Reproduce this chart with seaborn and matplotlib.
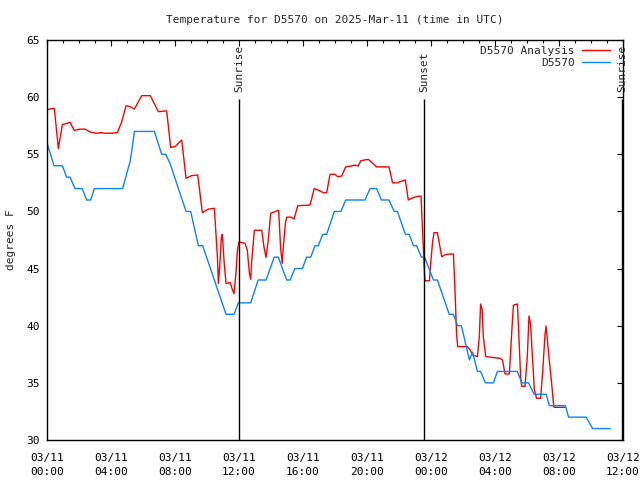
import numpy as np
import pandas as pd
import matplotlib
matplotlib.use("Agg")
import matplotlib.pyplot as plt
import matplotlib.dates as mdates
import matplotlib.transforms as mtransforms
from matplotlib.lines import Line2D
import seaborn as sns

# ---- data (hours after 2025-03-11 00:00 UTC, degrees F) ----
analysis_hours = [0.0, 0.3, 0.46, 0.71, 0.96, 1.23, 1.44, 1.7, 2.06, 2.4, 2.69, 3.1, 3.4, 3.6,
                  4.04, 4.4, 4.67, 4.94, 5.19, 5.46, 5.92, 6.46, 6.96, 7.48, 7.73, 8.0, 8.42,
                  8.69, 9.04, 9.42, 9.71, 10.08, 10.46, 10.65, 10.71, 10.8, 10.9, 10.96, 11.06,
                  11.19, 11.27, 11.44, 11.6, 11.69, 11.81, 11.9, 12.0, 12.375, 12.52, 12.65,
                  12.73, 12.8, 12.96, 13.42, 13.56, 13.69, 13.83, 13.98, 14.35, 14.48, 14.6,
                  14.7, 14.77, 14.9, 14.98, 15.25, 15.44, 15.67, 16.44, 16.7, 17.06, 17.27,
                  17.48, 17.69, 18.0, 18.17, 18.42, 18.67, 19.0, 19.25, 19.44, 19.62, 20.08,
                  20.6, 21.375, 21.6, 21.9, 22.06, 22.4, 22.58, 22.79, 23.1, 23.375, 23.46,
                  23.52, 23.58, 23.625, 23.9, 23.98, 24.1, 24.19, 24.4, 24.52, 24.67, 24.875,
                  25.08, 25.4, 25.5, 25.6, 25.67, 26.27, 26.44, 26.6, 26.9, 27.02, 27.1, 27.2,
                  27.27, 27.42, 28.0, 28.3, 28.47, 28.625, 28.9, 29.04, 29.15, 29.4, 29.46,
                  29.6, 29.67, 29.875, 30.02, 30.125, 30.23, 30.35, 30.46, 30.6, 30.85, 30.98,
                  31.125, 31.19, 31.27, 31.4, 31.54, 31.65, 31.69, 32.375]
analysis_temps = [58.9, 59.0, 59.0, 55.5, 57.6, 57.7, 57.8, 57.1, 57.2, 57.2, 56.95, 56.84, 56.9,
                  56.84, 56.84, 56.9, 57.85, 59.25, 59.17, 58.96, 60.13, 60.13, 58.73, 58.8,
                  55.6, 55.67, 56.25, 52.9, 53.13, 53.19, 49.9, 50.2, 50.27, 46.04, 43.7, 45.3,
                  47.8, 48.0, 45.75, 43.7, 43.7, 43.8, 43.1, 42.8, 44.6, 46.6, 47.35, 47.2,
                  46.6, 44.6, 44.06, 45.75, 48.35, 48.35, 46.9, 45.98, 47.5, 49.83, 50.04,
                  50.1, 46.8, 45.46, 46.9, 48.96, 49.5, 49.5, 49.34, 50.5, 50.56, 52.0, 51.8,
                  51.64, 51.64, 53.25, 53.25, 53.04, 53.1, 53.9, 53.97, 54.06, 53.97, 54.44,
                  54.56, 53.9, 53.9, 52.5, 52.5, 52.6, 52.75, 51.0, 51.15, 51.3, 51.35, 48.67,
                  46.6, 44.9, 43.94, 43.94, 45.46, 47.35, 48.14, 48.14, 47.2, 46.04, 46.2,
                  46.27, 46.27, 43.1, 39.2, 38.17, 38.17, 37.9, 37.44, 37.3, 39.04, 41.9, 41.4,
                  39.04, 37.3, 37.2, 37.15, 37.0, 35.78, 35.78, 39.3, 41.8, 41.9, 40.2, 35.54,
                  34.7, 34.7, 37.3, 40.85, 40.06, 37.0, 34.4, 33.65, 33.65, 35.98, 39.2, 39.98,
                  38.75, 36.85, 34.96, 33.27, 32.86, 32.86]

station_hours = [0.0, 0.44, 0.96, 1.23, 1.44, 1.75, 2.2, 2.48, 2.73, 2.96, 4.73, 5.0, 5.2, 5.35,
                 5.46, 6.71, 7.17, 7.42, 7.69, 8.69, 8.98, 9.46, 9.73, 11.19, 11.69, 11.96,
                 12.73, 13.2, 13.69, 14.2, 14.46, 14.98, 15.19, 15.5, 15.96, 16.23, 16.48,
                 16.75, 16.96, 17.23, 17.48, 17.96, 18.375, 18.67, 19.875, 20.19, 20.6, 20.9,
                 21.375, 21.7, 21.9, 22.4, 22.64, 22.9, 23.1, 23.4, 23.6, 24.15, 24.4, 25.14,
                 25.4, 25.67, 25.9, 26.4, 26.6, 26.9, 27.1, 27.4, 27.9, 28.15, 29.4, 29.67,
                 30.1, 30.44, 31.2, 31.4, 32.4, 32.6, 33.7, 34.1, 35.2]
station_temps = [56, 54, 54, 53, 53, 52, 52, 51, 51, 52, 52, 53.4, 54.4, 55.8,
                 57, 57, 55, 55, 54.2, 50, 50, 47, 47, 41, 41, 42,
                 42, 44, 44, 46, 46, 44, 44, 45, 45, 46, 46,
                 47, 47, 48, 48, 50, 50, 51, 51, 52, 52, 51,
                 51, 50, 50, 48, 48, 47, 47, 46, 46, 44, 44, 41,
                 41, 40, 40, 37, 37.7, 36, 36, 35, 35, 36, 36, 35,
                 35, 34, 34, 33, 33, 32, 32, 31, 31]

event_hours = [12.0, 23.56, 35.94]
event_labels = ["Sunrise", "Sunset", "Sunrise"]

series_names = ["D5570 Analysis", "D5570"]
series_colors = ["#ff0000", "#0a84ff"]

base = pd.Timestamp("2025-03-11 00:00")
def to_time(h):
    return base + pd.to_timedelta(np.asarray(h, dtype=float), unit="h")

df = pd.concat([
    pd.DataFrame({"time": to_time(analysis_hours), "temp": analysis_temps, "series": series_names[0]}),
    pd.DataFrame({"time": to_time(station_hours), "temp": station_temps, "series": series_names[1]}),
], ignore_index=True)

sns.set_style("white")
plt.rcParams["font.family"] = ["DejaVu Sans Mono", "DejaVu Sans"]
plt.rcParams["font.size"] = 8

fig = plt.figure(figsize=(6.4, 4.8), dpi=100)
ax = fig.add_axes([47 / 640, 1 - 440 / 480, 576 / 640, 400 / 480])

sns.lineplot(data=df, x="time", y="temp", hue="series", palette=dict(zip(series_names, series_colors)),
             estimator=None, sort=False, linewidth=1.0, ax=ax, legend=False)

ax.set_xlim(base, base + pd.Timedelta(hours=36))
ax.set_ylim(30, 65)
ax.set_yticks(np.arange(30, 66, 5))

ax.xaxis.set_major_locator(mdates.HourLocator(byhour=[0, 4, 8, 12, 16, 20]))
ax.xaxis.set_minor_locator(mdates.HourLocator())
ax.xaxis.set_major_formatter(mdates.DateFormatter("%m/%d\n%H:%M"))

ax.tick_params(axis="both", which="both", direction="in", top=True, right=True, colors="black",
               labelsize=8)
ax.tick_params(axis="both", which="major", length=4, width=0.8)
ax.tick_params(axis="both", which="minor", length=2.5, width=0.8)
ax.tick_params(axis="x", which="major", pad=9.5)
ax.tick_params(axis="y", which="major", pad=5)
for lab in ax.get_xticklabels():
    lab.set_linespacing(1.5)

for s in ax.spines.values():
    s.set_visible(True)
    s.set_color("black")
    s.set_linewidth(1.0)

# Sunrise / sunset markers
trans = mtransforms.blended_transform_factory(ax.transData, ax.transAxes)
for h, lab in zip(event_hours, event_labels):
    t = to_time([h])[0]
    ax.vlines(t, 30, 59.85, color="black", linewidth=1.0, zorder=3)
    ax.text(t, 1 - (92 - 40) / 400, lab, rotation=90, ha="center", va="bottom",
            fontsize=8, transform=trans, clip_on=False)

ax.set_title("Temperature for D5570 on 2025-Mar-11 (time in UTC)", fontsize=8, pad=12)
ax.set_ylabel("degrees F", fontsize=8)
ax.yaxis.set_label_coords(-(47 - 16) / 576, 0.5)
ax.set_xlabel("")

handles = [Line2D([0], [0], color=c, lw=1.0) for c in series_colors]
ax.legend(handles, series_names, loc="upper right", frameon=False, markerfirst=False,
          handlelength=2.5, handletextpad=0.7, labelspacing=0.2, fontsize=8,
          bbox_to_anchor=((614.5 - 47) / 576, 1.0 - 1.5 / 400), borderaxespad=0.0)

fig.savefig("out.png", dpi=100)
